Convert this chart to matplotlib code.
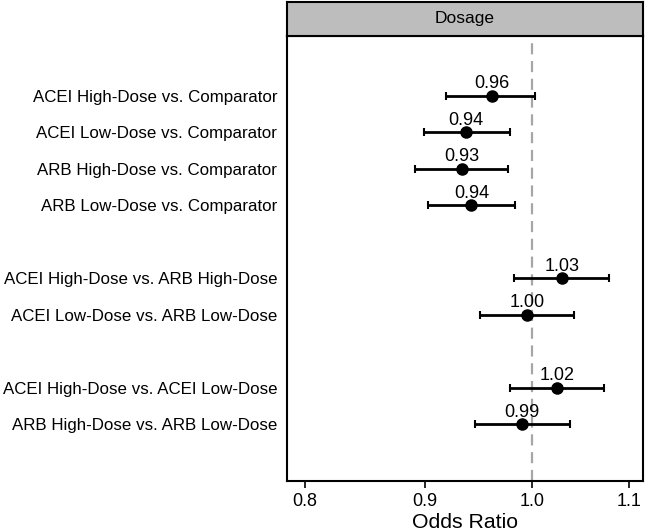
import numpy as np
import matplotlib
matplotlib.use("Agg")
import matplotlib.pyplot as plt

plt.rcParams['font.family'] = ['Liberation Sans', 'DejaVu Sans']

# data
labels = ["ACEI High-Dose vs. Comparator",
          "ACEI Low-Dose vs. Comparator",
          "ARB High-Dose vs. Comparator",
          "ARB Low-Dose vs. Comparator",
          "ACEI High-Dose vs. ARB High-Dose",
          "ACEI Low-Dose vs. ARB Low-Dose",
          "ACEI High-Dose vs. ACEI Low-Dose",
          "ARB High-Dose vs. ARB Low-Dose"]
rows = [1, 2, 3, 4, 6, 7, 9, 10]
odds = [0.961, 0.937, 0.933, 0.942, 1.030, 0.995, 1.025, 0.990]
lower = [0.919, 0.899, 0.891, 0.903, 0.982, 0.950, 0.978, 0.945]
upper = [1.003, 0.978, 0.977, 0.983, 1.078, 1.042, 1.073, 1.038]
odds_txt = ["0.96", "0.94", "0.93", "0.94", "1.03", "1.00", "1.02", "0.99"]
xticks = [0.8, 0.9, 1.0, 1.1]

W, H = 649, 532
fig = plt.figure(figsize=(W / 100, H / 100), dpi=100)
ax = fig.add_axes([287 / W, 1 - 481 / H, (643 - 287) / W, (481 - 36) / H])
strip = fig.add_axes([287 / W, 1 - 36 / H, (643 - 287) / W, 34 / H])

ax.axvline(1.0, color="#a6a6a6", lw=1.6, ls=(0, (5, 3)), zorder=1)

odds_a = np.array(odds)
err = [odds_a - np.array(lower), np.array(upper) - odds_a]
ax.errorbar(odds, rows, xerr=err, fmt="o", color="black", ms=8,
            elinewidth=2, capsize=3, capthick=1.5, zorder=3)
for x, y, t in zip(odds, rows, odds_txt):
    ax.text(x, y - 0.21, t, ha="center", va="baseline", fontsize=13,
            color="black", zorder=4)

ax.set_xscale("log")
ax.set_xlim(0.786, 1.115)
ax.set_xticks(xticks)
ax.set_xticklabels(["%.1f" % v for v in xticks])
ax.minorticks_off()
ax.set_ylim(11.55, -0.64)
ax.set_yticks(rows)
ax.set_yticklabels(labels)
ax.tick_params(axis="y", length=0, labelsize=12.2, pad=7)
ax.tick_params(axis="x", length=5, width=1.2, labelsize=13, pad=4)
for s in ax.spines.values():
    s.set_linewidth(1.5)
ax.set_xlabel("Odds Ratio", fontsize=15.3, labelpad=2)

strip.set_facecolor("#bdbdbd")
strip.set_xticks([])
strip.set_yticks([])
for s in strip.spines.values():
    s.set_linewidth(1.5)
strip.text(0.5, 0.5, "Dosage", ha="center", va="center", fontsize=12.5,
           transform=strip.transAxes)

fig.savefig("out.png", dpi=100)
